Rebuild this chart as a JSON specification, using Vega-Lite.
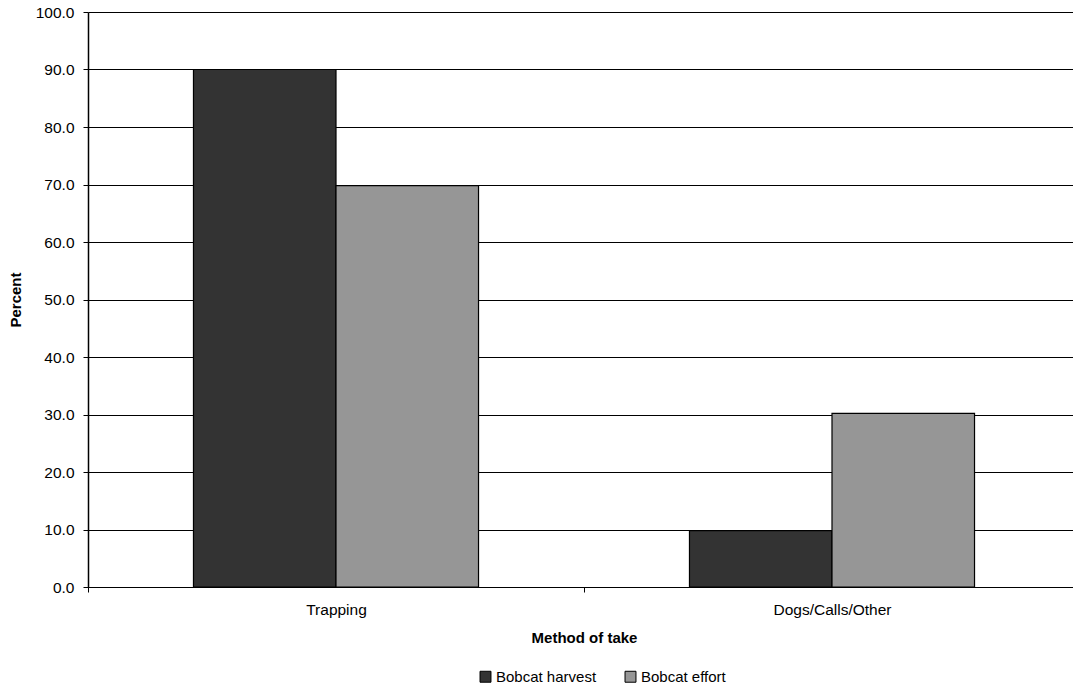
{
  "$schema": "https://vega.github.io/schema/vega-lite/v6.json",
  "autosize": "none",
  "width": 992,
  "height": 575,
  "padding": {"left": 88, "top": 12, "right": -7, "bottom": 101},
  "background": "white",
  "config": {
    "font": "Liberation Sans",
    "view": {"stroke": null},
    "axis": {"labelFont": "Liberation Sans", "titleFont": "Liberation Sans", "labelColor": "#000", "titleColor": "#000"}
  },
  "data": {
    "values": [
      {"method": "Trapping", "series": "Bobcat harvest", "percent": 90.0},
      {"method": "Trapping", "series": "Bobcat effort", "percent": 69.8},
      {"method": "Dogs/Calls/Other", "series": "Bobcat harvest", "percent": 9.8},
      {"method": "Dogs/Calls/Other", "series": "Bobcat effort", "percent": 30.2}
    ]
  },
  "mark": {"type": "bar", "stroke": "#000", "strokeWidth": 1.2},
  "encoding": {
    "x": {
      "field": "method",
      "type": "nominal",
      "sort": ["Trapping", "Dogs/Calls/Other"],
      "scale": {"paddingInner": 0, "paddingOuter": 0},
      "axis": {
        "title": "Method of take",
        "titleFontSize": 15,
        "titleFontWeight": "bold",
        "titlePadding": 13,
        "labelFontSize": 15.5,
        "labelAngle": 0,
        "labelPadding": 10,
        "tickBand": "extent",
        "tickColor": "#000",
        "tickSize": 5,
        "domainColor": "#000",
        "domainWidth": 1.2
      }
    },
    "xOffset": {"field": "series", "type": "nominal", "sort": ["Bobcat harvest", "Bobcat effort"], "scale": {"paddingInner": 0, "paddingOuter": 0.74}},
    "y": {
      "field": "percent",
      "type": "quantitative",
      "scale": {"domain": [0, 100], "nice": false},
      "axis": {
        "title": "Percent",
        "titleFontSize": 15,
        "titleFontWeight": "bold",
        "titlePadding": 12,
        "values": [0, 10, 20, 30, 40, 50, 60, 70, 80, 90, 100],
        "format": ".1f",
        "labelFontSize": 15.5,
        "labelPadding": 9,
        "tickColor": "#000",
        "tickSize": 5,
        "domainColor": "#000",
        "domainWidth": 1.5,
        "grid": true,
        "gridColor": "#000",
        "gridWidth": 1
      }
    },
    "color": {
      "field": "series",
      "type": "nominal",
      "sort": ["Bobcat harvest", "Bobcat effort"],
      "scale": {"domain": ["Bobcat harvest", "Bobcat effort"], "range": ["#333333", "#969696"]},
      "legend": {
        "title": null,
        "orient": "none",
        "direction": "horizontal",
        "legendX": 390,
        "legendY": 657,
        "symbolType": "square",
        "symbolSize": 120,
        "symbolStrokeColor": "#000",
        "symbolStrokeWidth": 1,
        "labelFontSize": 15,
        "labelColor": "#000",
        "labelOffset": 3,
        "columnPadding": 26
      }
    }
  }
}
